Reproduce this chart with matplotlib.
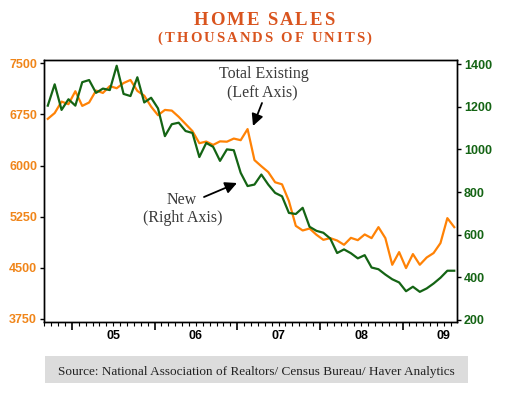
import numpy as np
import matplotlib
matplotlib.use("Agg")
import matplotlib.pyplot as plt
from matplotlib.transforms import IdentityTransform, blended_transform_factory
from matplotlib.patches import Rectangle

# month index, 0 = Jan 2005 ... 55 = Aug 2009
months = np.arange(-4, 56)

# total existing home sales, thousands (left axis)
existing = [6685, 6770, 6938, 6900, 7090, 6875, 6925, 7100, 7065, 7165,
            7134, 7210, 7255, 7095, 7025, 6864, 6738, 6816, 6806, 6715,
            6610, 6505, 6328, 6352, 6303, 6355, 6350, 6396, 6372, 6535,
            6080, 5990, 5905, 5755, 5725, 5480, 5116, 5048, 5077, 4985,
            4911, 4936, 4901, 4838, 4940, 4906, 4990, 4936, 5097, 4936,
            4545, 4731, 4497, 4702, 4545, 4652, 4717, 4863, 5229, 5097]

# new home sales, thousands (right axis)
new = [1205, 1305, 1185, 1235, 1205, 1315, 1325, 1265, 1285, 1278,
       1392, 1260, 1250, 1338, 1220, 1242, 1192, 1062, 1118, 1125,
       1086, 1077, 964, 1030, 1012, 946, 1000, 996, 890, 828,
       835, 882, 835, 796, 780, 702, 697, 726, 637, 618,
       609, 582, 514, 531, 513, 489, 504, 446, 438, 413,
       391, 376, 335, 356, 332, 348, 371, 398, 431, 431]

years = ['05', '06', '07', '08', '09']
left_ticks = [3750, 4500, 5250, 6000, 6750, 7500]
right_ticks = [200, 400, 600, 800, 1000, 1200, 1400]

orange = '#FF8205'
orange_lbl = '#F08519'
green = '#146414'
title_col = '#D9541E'
note_col = '#3a3a3a'

plt.rcParams['font.family'] = ['Liberation Sans', 'DejaVu Sans']

fig = plt.figure(figsize=(5.05, 3.95), dpi=100)
W, H = 505, 395
ax = fig.add_axes([44 / W, 73 / H, 413 / W, 262 / H])

ax.plot(months, existing, color=orange, lw=1.6, zorder=3)
ax.set_xlim(-4.55, 55.4)
ax.set_ylim(3706, 7548)
ax.set_yticks(left_ticks)
ax.set_yticklabels([str(v) for v in left_ticks], fontsize=9,
                   fontweight='bold', color=orange_lbl)
ax.tick_params(axis='y', direction='out', length=3, width=1, pad=2)

ax2 = ax.twinx()
ax2.plot(months, new, color=green, lw=1.6, zorder=3)
ax2.set_ylim(190.6, 1419)
ax2.set_yticks(right_ticks)
ax2.set_yticklabels([str(v) for v in right_ticks], fontsize=9,
                    fontweight='bold', color=green)
ax2.tick_params(axis='y', direction='out', length=3, width=1, pad=2)

# x axis: year boundaries as major ticks, months as minor ticks
ax.set_xticks(np.arange(0, 60, 12) - 0.5)
ax.set_xticklabels([])
ax.set_xticks(np.arange(-4, 56) - 0.5, minor=True)
ax.tick_params(axis='x', which='major', direction='out', length=6, width=1.2)
ax.tick_params(axis='x', which='minor', direction='out', length=3, width=0.8)
trans = blended_transform_factory(ax.transData, ax.transAxes)
for k, y in enumerate(years):
    ax.text(12 * k + 5.5, -0.052, y, transform=trans, ha='center',
            va='center', fontsize=9, fontweight='bold')

for a in (ax, ax2):
    for s in a.spines.values():
        s.set_linewidth(1.0)


def spaced_text(cx, y, s, width, **kw):
    # letter-spaced text, centred at cx, baseline y (figure pixels)
    r = fig.canvas.get_renderer()
    parts, widths = [], []
    for ch in s:
        t = fig.text(0, 0, ch, transform=IdentityTransform(), ha='left',
                     va='baseline', **kw)
        parts.append(t)
        if ch == ' ':
            widths.append(kw.get('fontsize', 10) * 0.25 * fig.dpi / 72)
        else:
            widths.append(t.get_window_extent(r).width)
    gap = (width - sum(widths)) / (len(s) - 1)
    x = cx - width / 2
    for t, w in zip(parts, widths):
        t.set_position((x, y))
        x += w + gap


spaced_text(264, H - 25, 'HOME SALES', 140, fontsize=13.5,
            fontweight='bold', family='Liberation Serif', color=title_col)
spaced_text(264.5, H - 41.5, '(THOUSANDS OF UNITS)', 214, fontsize=10.5,
            fontweight='bold', family='Liberation Serif', color=title_col)

# annotations
note = dict(transform=IdentityTransform(), ha='center', va='center',
            family='Liberation Serif', fontsize=11.5, color=note_col)
fig.text(263.5, H - 74, 'Total Existing', **note)
fig.text(262.5, H - 93, '(Left Axis)', **note)
fig.text(182, H - 200, 'New', **note)
fig.text(183, H - 218, '(Right Axis)', **note)

arrow = dict(arrowstyle='-|>,head_length=0.7,head_width=0.35', color='black',
             lw=1.3, mutation_scale=10, shrinkA=0, shrinkB=0)
ax.annotate('', xy=(253, H - 126), xytext=(262, H - 103),
            xycoords='figure pixels', textcoords='figure pixels',
            arrowprops=arrow)
ax.annotate('', xy=(237, H - 183), xytext=(204, H - 197),
            xycoords='figure pixels', textcoords='figure pixels',
            arrowprops=arrow)

# source box
fig.patches.append(Rectangle((45, H - 383), 423, 27, transform=IdentityTransform(),
                             facecolor='#DCDCDC', edgecolor='none', figure=fig))
fig.text(256, H - 372,
         'Source: National Association of Realtors/ Census Bureau/ Haver Analytics',
         transform=IdentityTransform(), ha='center', va='center',
         family='Liberation Serif', fontsize=9.5, color='#222222')

fig.savefig('out.png', dpi=100)
